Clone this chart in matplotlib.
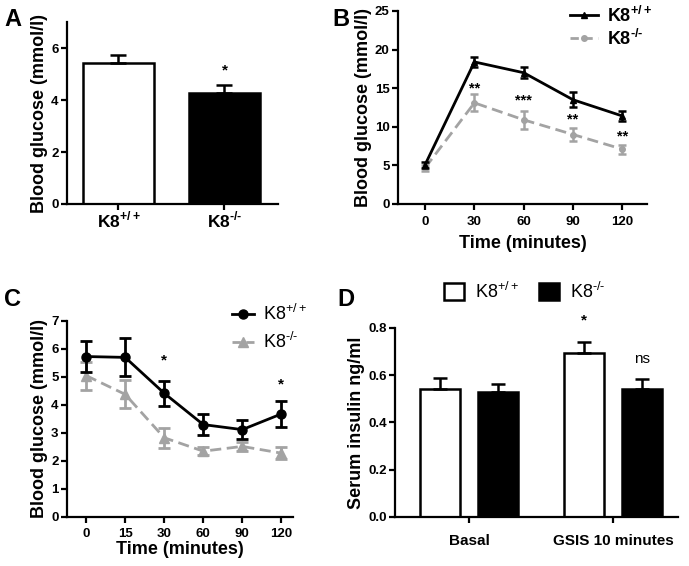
import numpy as np
import matplotlib
matplotlib.use('Agg')
import matplotlib.pyplot as plt
from matplotlib.lines import Line2D
from matplotlib.patches import Patch

plt.rcParams['font.family'] = ['Liberation Sans', 'DejaVu Sans']
plt.rcParams['mathtext.fontset'] = 'custom'
plt.rcParams['mathtext.rm'] = 'Liberation Sans'
plt.rcParams['mathtext.bf'] = 'Liberation Sans:bold'
plt.rcParams['axes.linewidth'] = 1.6

GREY = '#a3a3a3'
WT_B = 'K8$^{\\mathbf{+/+}}$'
KO_B = 'K8$^{\\mathbf{\u2010/\u2010}}$'
WT = 'K8$^{+/+}$'
KO = 'K8$^{\u2010/\u2010}$'

# 数据
# A: 空腹血糖
a_groups = [WT_B, KO_B]
a_mean = [5.42, 4.27]
a_err = [0.33, 0.30]

# B: 葡萄糖耐量
b_time = [0, 30, 60, 90, 120]
b_wt = [5.1, 18.4, 17.0, 13.5, 11.4]
b_wt_err = [0.4, 0.6, 0.7, 1.0, 0.7]
b_ko = [4.7, 13.1, 10.9, 9.0, 7.1]
b_ko_err = [0.4, 1.1, 1.2, 0.8, 0.6]
b_star = ['', '**', '***', '**', '**']
b_star_y = [0, 14.9, 13.4, 11.0, 8.8]

# C: 胰岛素耐量
c_time = ['0', '15', '30', '60', '90', '120']
c_wt = [5.73, 5.70, 4.42, 3.30, 3.12, 3.68]
c_wt_err = [0.55, 0.68, 0.45, 0.38, 0.33, 0.45]
c_ko = [5.05, 4.38, 2.83, 2.35, 2.52, 2.28]
c_ko_err = [0.5, 0.5, 0.35, 0.15, 0.15, 0.22]
c_star = ['', '', '*', '', '', '*']
c_star_y = [0, 0, 5.6, 0, 0, 4.75]

# D: 血清胰岛素
d_groups = ['Basal', 'GSIS 10 minutes']
d_wt = [0.543, 0.695]
d_wt_err = [0.044, 0.045]
d_ko = [0.53, 0.54]
d_ko_err = [0.035, 0.045]
d_wt_star = ['', '*']
d_ko_star = ['', 'ns']

fig = plt.figure(figsize=(6.89, 5.66), dpi=100)

def style(ax):
    ax.spines['top'].set_visible(False)
    ax.spines['right'].set_visible(False)
    ax.tick_params(direction='out', length=4, width=1.6, labelsize=9.5, pad=2)
    for t in ax.get_yticklabels() + ax.get_xticklabels():
        t.set_fontweight('bold')

# ---- A ----
axA = fig.add_axes([0.0972, 0.6396, 0.3063, 0.3214])
xa = np.arange(len(a_groups))
axA.bar(xa, a_mean, width=0.67, color=['white', 'black'], edgecolor='black', linewidth=1.8,
        yerr=[[0, 0], a_err], error_kw=dict(ecolor='black', elinewidth=1.8, capsize=6, capthick=1.8), zorder=2)
axA.text(xa[1], a_mean[1] + a_err[1] + 0.55, '*', ha='center', va='center', fontsize=11, fontweight='bold')
axA.set_xlim(-0.486, 1.505)
axA.set_ylim(0, 7)
axA.set_yticks([0, 2, 4, 6])
axA.set_xticks(xa)
axA.set_xticklabels(a_groups)
axA.set_ylabel('Blood glucose (mmol/l)', fontsize=13, fontweight='bold', labelpad=2)
style(axA)
axA.tick_params(axis='x', labelsize=12.5, pad=0)

# ---- B ----
axB = fig.add_axes([0.5777, 0.6396, 0.3613, 0.3410])
axB.errorbar(b_time, b_wt, yerr=b_wt_err, color='black', lw=2, marker='^', ms=4,
             capsize=3, capthick=1.8, elinewidth=1.8, zorder=3)
axB.errorbar(b_time, b_ko, yerr=b_ko_err, color=GREY, lw=2, ls=(0, (4, 2)), marker='o', ms=4,
             capsize=3, capthick=1.8, elinewidth=1.8, zorder=2)
for x, s, y in zip(b_time, b_star, b_star_y):
    if s:
        axB.text(x, y, s, ha='center', va='center', fontsize=10.5, fontweight='bold')
axB.set_xlim(-16.5, 135)
axB.set_ylim(0, 25)
axB.set_xticks(b_time)
axB.set_yticks([0, 5, 10, 15, 20, 25])
axB.set_xlabel('Time (minutes)', fontsize=13, fontweight='bold', labelpad=5)
axB.set_ylabel('Blood glucose (mmol/l)', fontsize=13, fontweight='bold', labelpad=2)
style(axB)
axB.tick_params(axis='x', pad=5)
hB = [Line2D([], [], color='black', lw=2, marker='^', ms=4),
      Line2D([], [], color=GREY, lw=2, ls=(0, (3, 2)), marker='o', ms=4)]
fig.legend(hB, [WT_B, KO_B], loc='upper left', bbox_to_anchor=(0.828, 0.99), frameon=False,
           handlelength=1.5, handletextpad=0.5, labelspacing=0.15, borderpad=0, borderaxespad=0,
           prop={'weight': 'bold', 'size': 13})

# ---- C ----
axC = fig.add_axes([0.0972, 0.0866, 0.3281, 0.3463])
xc = np.arange(len(c_time))
axC.errorbar(xc, c_wt, yerr=c_wt_err, color='black', lw=2, marker='o', ms=6.5,
             capsize=4, capthick=2, elinewidth=2, zorder=3)
axC.errorbar(xc, c_ko, yerr=c_ko_err, color=GREY, lw=2, ls=(0, (4, 2)), marker='^', ms=6.5,
             capsize=4, capthick=2, elinewidth=2, zorder=2)
for x, s, y in zip(xc, c_star, c_star_y):
    if s:
        axC.text(x, y, s, ha='center', va='center', fontsize=11, fontweight='bold')
axC.set_xlim(-0.49, 5.3)
axC.set_ylim(0, 7)
axC.set_xticks(xc)
axC.set_xticklabels(c_time)
axC.set_yticks(range(8))
axC.set_xlabel('Time (minutes)', fontsize=13, fontweight='bold', labelpad=1)
axC.set_ylabel('Blood glucose (mmol/l)', fontsize=13, fontweight='bold', labelpad=2)
style(axC)
axC.tick_params(axis='x', pad=4)
hC = [Line2D([], [], color='black', lw=2, marker='o', ms=6.5),
      Line2D([], [], color=GREY, lw=2, ls=(0, (3, 2)), marker='^', ms=6.5)]
fig.legend(hC, [WT, KO], loc='upper left', bbox_to_anchor=(0.337, 0.463), frameon=False,
           handlelength=1.2, handletextpad=0.5, labelspacing=0.45, borderpad=0, borderaxespad=0,
           prop={'size': 13})

# ---- D ----
axD = fig.add_axes([0.5733, 0.0866, 0.4107, 0.3339])
xd = np.array([0, 3.6])
off = 0.72
axD.bar(xd - off, d_wt, width=1.0, color='white', edgecolor='black', linewidth=1.8,
        yerr=[[0, 0], d_wt_err], error_kw=dict(ecolor='black', elinewidth=1.8, capsize=5, capthick=1.8),
        zorder=2)
axD.bar(xd + off, d_ko, width=1.0, color='black', edgecolor='black', linewidth=1.8,
        yerr=[[0, 0], d_ko_err], error_kw=dict(ecolor='black', elinewidth=1.8, capsize=5, capthick=1.8),
        zorder=2)
for i in range(len(xd)):
    if d_wt_star[i]:
        axD.text(xd[i] - off, d_wt[i] + d_wt_err[i] + 0.09, d_wt_star[i], ha='center', va='center',
                 fontsize=11, fontweight='bold')
    if d_ko_star[i]:
        axD.text(xd[i] + off, d_ko[i] + d_ko_err[i] + 0.085, d_ko_star[i], ha='center', va='center',
                 fontsize=11)
axD.set_xlim(-1.85, 5.22)
axD.set_ylim(0, 0.8)
axD.set_yticks([0, 0.2, 0.4, 0.6, 0.8])
axD.set_yticklabels(['0.0', '0.2', '0.4', '0.6', '0.8'])
axD.set_xticks(xd)
axD.set_xticklabels(d_groups)
axD.set_ylabel('Serum insulin ng/ml', fontsize=13, fontweight='bold', labelpad=2)
style(axD)
axD.tick_params(axis='x', pad=8, labelsize=11)
hD = [Patch(facecolor='white', edgecolor='black', linewidth=1.8),
      Patch(facecolor='black', edgecolor='black', linewidth=1.8)]
fig.legend(hD, [WT, KO], loc='upper left', bbox_to_anchor=(0.645, 0.502), ncol=2, frameon=False,
           handlelength=1.1, handleheight=1.1, handletextpad=0.6, columnspacing=1.1,
           borderpad=0, borderaxespad=0, prop={'size': 13})

# 面板字母
for lab, x, y in [('A', 0.006, 0.966), ('B', 0.482, 0.966), ('C', 0.006, 0.47), ('D', 0.49, 0.47)]:
    fig.text(x, y, lab, fontsize=17, fontweight='bold', va='center', ha='left')

fig.savefig('out.png', dpi=100)
